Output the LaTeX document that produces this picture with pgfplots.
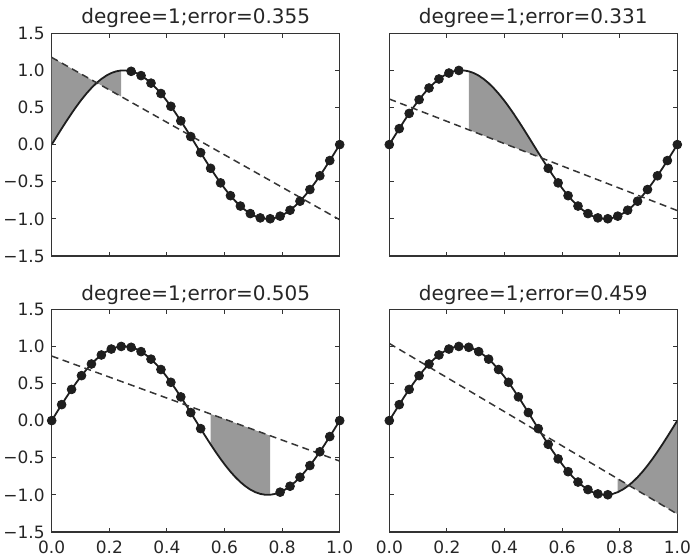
\documentclass[border=0pt]{standalone}
\usepackage{fontspec}
\setmainfont{DejaVu Sans}
\usepackage{pgfplots}
\pgfplotsset{compat=1.18}
\usepgfplotslibrary{fillbetween}
\usepackage{pgfplotstable}

\pgfplotstableread{
x y
0 0
0.017241 0.10812
0.034483 0.21497
0.051724 0.31930
0.068966 0.41989
0.086207 0.51555
0.103448 0.60517
0.120690 0.68770
0.137931 0.76216
0.155172 0.82769
0.172414 0.88351
0.189655 0.92898
0.206897 0.96355
0.224138 0.98683
0.241379 0.99853
0.258621 0.99853
0.275862 0.98683
0.293103 0.96355
0.310345 0.92898
0.327586 0.88351
0.344828 0.82769
0.362069 0.76216
0.379310 0.68770
0.396552 0.60517
0.413793 0.51555
0.431034 0.41989
0.448276 0.31930
0.465517 0.21497
0.482759 0.10812
0.500000 0
0.517241 -0.10812
0.534483 -0.21497
0.551724 -0.31930
0.568966 -0.41989
0.586207 -0.51555
0.603448 -0.60517
0.620690 -0.68770
0.637931 -0.76216
0.655172 -0.82769
0.672414 -0.88351
0.689655 -0.92898
0.706897 -0.96355
0.724138 -0.98683
0.741379 -0.99853
0.758621 -0.99853
0.775862 -0.98683
0.793103 -0.96355
0.810345 -0.92898
0.827586 -0.88351
0.844828 -0.82769
0.862069 -0.76216
0.879310 -0.68770
0.896552 -0.60517
0.913793 -0.51555
0.931034 -0.41989
0.948276 -0.31930
0.965517 -0.21497
0.982759 -0.10812
1 0
}\sine

\pgfplotstableread{
x y
0 0
0.034483 0.21497
0.068966 0.41989
0.103448 0.60517
0.137931 0.76216
0.172414 0.88351
0.206897 0.96355
0.241379 0.99853
0.275862 0.98683
0.310345 0.92898
0.344828 0.82769
0.379310 0.68770
0.413793 0.51555
0.448276 0.31930
0.482759 0.10812
0.517241 -0.10812
0.551724 -0.31930
0.586207 -0.51555
0.620690 -0.68770
0.655172 -0.82769
0.689655 -0.92898
0.724138 -0.98683
0.758621 -0.99853
0.793103 -0.96355
0.827586 -0.88351
0.862069 -0.76216
0.896552 -0.60517
0.931034 -0.41989
0.965517 -0.21497
1 0
}\pts

\definecolor{ink}{HTML}{1E1E1E}
\definecolor{fillgray}{HTML}{999999}

\pgfplotsset{
  cvax/.style={
    scale only axis, width=144pt, height=111.4pt,
    xmin=0, xmax=1, ymin=-1.5, ymax=1.5,
    xtick={0,0.2,0.4,0.6,0.8,1},
    ytick={-1.5,-1,-0.5,0,0.5,1,1.5},
    xticklabels={0.0,0.2,0.4,0.6,0.8,1.0},
    yticklabels={−1.5,−1.0,−0.5,0.0,0.5,1.0,1.5},
    tick align=inside, major tick length=2.2pt,
    tick style={black!80, line width=0.45pt},
    axis line style={black!80, line width=0.6pt},
    xticklabel style={font=\fontsize{8.5}{10}\selectfont, text=black!85, anchor=north, inner sep=0pt, yshift=-4.3pt},
    yticklabel style={font=\fontsize{8.5}{10}\selectfont, text=black!85, anchor=east, inner sep=0pt, xshift=-3.3pt},
    title style={at={(0.5,1)}, anchor=base, yshift=-1.4pt, inner sep=0pt, font=\fontsize{10}{12}\selectfont, text=black!85},
  },
  sinecurve/.style={ink, line width=0.9pt, no marks},
  fitline/.style={ink!90, line width=0.75pt, dash pattern=on 3.5pt off 2.3pt, no marks},
  dots/.style={only marks, mark=*, mark size=2.2pt, mark options={ink, fill=ink}},
}

\begin{document}
\begin{tikzpicture}

% top left
\begin{axis}[cvax, at={(25.85pt,150pt)}, anchor=south west, xticklabels={},
  title={degree=1;error=0.355}]
\addplot[draw=none, name path=s1, forget plot] table[restrict x to domain=0:0.2414] {\sine};
\addplot[draw=none, name path=l1, forget plot] coordinates {(0,1.17414) (0.241379,0.64649)};
\addplot[fill=fillgray, draw=none] fill between[of=s1 and l1];
\addplot[sinecurve] table {\sine};
\addplot[fitline] coordinates {(0,1.17414) (1,-1.01182)};
\addplot[dots, restrict x to domain=0.26:1.01] table {\pts};
\end{axis}

% top right
\begin{axis}[cvax, at={(194.65pt,150pt)}, anchor=south west, xticklabels={}, yticklabels={},
  title={degree=1;error=0.331}]
\addplot[draw=none, name path=s2, forget plot] table[restrict x to domain=0.2758:0.5173] {\sine};
\addplot[draw=none, name path=l2, forget plot] coordinates {(0.275862,0.19922) (0.517241,-0.16331)};
\addplot[fill=fillgray, draw=none] fill between[of=s2 and l2];
\addplot[sinecurve] table {\sine};
\addplot[fitline] coordinates {(0,0.61354) (1,-0.88837)};
\addplot[dots, restrict x to domain=0:0.25] table {\pts};
\addplot[dots, restrict x to domain=0.54:1.01] table {\pts};
\end{axis}

% bottom left
\begin{axis}[cvax, at={(25.85pt,12pt)}, anchor=south west,
  title={degree=1;error=0.505}]
\addplot[draw=none, name path=s3, forget plot] table[restrict x to domain=0.5517:0.7587] {\sine};
\addplot[draw=none, name path=l3, forget plot] coordinates {(0.551724,0.08898) (0.758621,-0.20357)};
\addplot[fill=fillgray, draw=none] fill between[of=s3 and l3];
\addplot[sinecurve] table {\sine};
\addplot[fitline] coordinates {(0,0.86911) (1,-0.54488)};
\addplot[dots, restrict x to domain=0:0.53] table {\pts};
\addplot[dots, restrict x to domain=0.78:1.01] table {\pts};
\end{axis}

% bottom right
\begin{axis}[cvax, at={(194.65pt,12pt)}, anchor=south west, yticklabels={},
  title={degree=1;error=0.459}]
\addplot[draw=none, name path=s4, forget plot] table[restrict x to domain=0.7931:1.01] {\sine};
\addplot[draw=none, name path=l4, forget plot] coordinates {(0.793103,-0.78309) (1,-1.25833)};
\addplot[fill=fillgray, draw=none] fill between[of=s4 and l4];
\addplot[sinecurve] table {\sine};
\addplot[fitline] coordinates {(0,1.03862) (1,-1.25833)};
\addplot[dots, restrict x to domain=0:0.77] table {\pts};
\end{axis}

\pgfresetboundingbox
\useasboundingbox (0,0) rectangle (345pt,278pt);
\end{tikzpicture}
\end{document}
